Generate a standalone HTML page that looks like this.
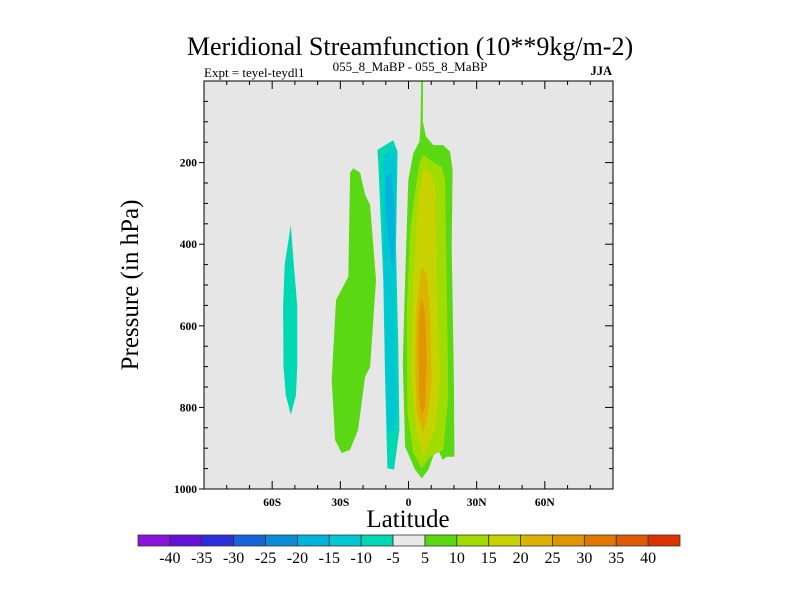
<!DOCTYPE html>
<html><head><meta charset="utf-8"><style>
body{margin:0;background:#fff;}
svg text{font-family:"Liberation Serif",serif;}
</style></head><body>
<svg id="chart" width="800" height="600" xmlns="http://www.w3.org/2000/svg">
<text x="410" y="55" font-size="26" text-anchor="middle">Meridional Streamfunction (10**9kg/m-2)</text>
<text x="204" y="77" font-size="13">Expt = teyel-teydl1</text>
<text x="410" y="71" font-size="13" text-anchor="middle">055_8_MaBP - 055_8_MaBP</text>
<text x="612" y="75" font-size="12.5" font-weight="bold" text-anchor="end">JJA</text>
<rect x="204" y="81" width="409" height="408" fill="#e6e6e6"/>
<g id="contours"></g>
<rect x="204" y="81" width="409" height="408" fill="none" stroke="#000" stroke-width="1"/>
<g id="ticks"></g>
<text transform="translate(138,285) rotate(-90)" font-size="25" text-anchor="middle">Pressure (in hPa)</text>
<text x="408" y="527" font-size="25" text-anchor="middle">Latitude</text>
<g id="colorbar"></g>
</svg>
<script>
const NS="http://www.w3.org/2000/svg";
const latTicks=[-60,-30,0,30,60];
const latTickLabels=["60S","30S","0","30N","60N"];
const presTicks=[200,400,600,800,1000];
const cbLevels=[-40,-35,-30,-25,-20,-15,-10,-5,5,10,15,20,25,30,35,40];
const cbColors=["#8a14dc","#6410d8","#2a30dc","#1464d8","#0a8cd8","#00b4dc","#00c8d2","#00d8b4","#e8e8e8","#5ad814","#a0dc00","#c8d200","#dcb400","#e09600","#e07800","#e05a00","#dc3200"];
// contour polygons: [lat, pressure]
const cyanLeft=[[-51.8,353],[-50.5,450],[-49,550],[-49,700],[-49.5,770],[-51.8,818],[-54,770],[-55,700],[-55.2,550],[-54.5,450]];
const greenLeft=[[-24.3,214],[-21.3,225],[-19.1,279],[-16.9,304],[-14.3,488],[-16.9,701],[-19.1,725],[-22.2,855],[-25.7,904],[-29.4,912],[-32.3,880],[-33.8,733],[-31.9,537],[-26.5,480],[-25.7,225]];
const tealCol=[[-13.7,169],[-6.7,145],[-4.8,173],[-5.5,406],[-4.5,651],[-4.0,855],[-6.4,953],[-9.3,949],[-10.3,733],[-11.1,488],[-13.3,201]];
const cyanCol=[[-11.1,185],[-6.4,161],[-5.5,186],[-5.9,569],[-5.2,814],[-6.7,863],[-9.3,855],[-10.3,676],[-11.1,406]];
const blueCore=[[-10.3,234],[-7.4,226],[-5.9,324],[-6.4,471],[-8.1,422],[-9.9,324]];
const pos5=[[5.6,0],[6.4,0],[6.3,100],[7.7,136],[10.9,157],[15.3,157],[18.3,173],[19.4,218],[19.0,406],[20.0,733],[20.2,921],[16.8,921],[15.0,929],[12.4,896],[8.7,953],[5.8,974],[2.9,953],[-1.5,896],[-2.5,691],[-1.5,488],[-0.1,243],[2.1,177],[4.8,149],[5.3,110]];
const pos10=[[6.5,181],[9.5,194],[14.6,210],[16.1,243],[16.8,488],[17.5,774],[15.3,904],[9.5,921],[5.8,949],[2.1,912],[-0.5,814],[-0.8,569],[0.7,365],[3.6,243],[5.1,194]];
const pos15=[[6.5,214],[9.5,223],[11.7,259],[12.4,488],[13.9,733],[11.7,855],[6.5,921],[3.6,863],[1.4,733],[2.1,488],[4.4,284]];
const pos20=[[5.8,455],[8.0,471],[9.5,569],[10.2,733],[8.7,814],[6.5,863],[3.6,814],[2.9,691],[3.6,553]];
const pos25=[[5.8,529],[7.3,569],[8.0,691],[7.3,798],[5.8,823],[4.7,782],[4.4,651],[4.7,569]];
const X0=204,X1=613,Y0=81,Y1=489;
const xs=lat=>X0+(lat+90)/180*(X1-X0);
const ys=p=>Y0+p/1000*(Y1-Y0);
const cg=document.getElementById('contours');
function poly(pts,color,name){
  const e=document.createElementNS(NS,'polygon');
  e.setAttribute('points',pts.map(q=>xs(q[0]).toFixed(1)+','+ys(q[1]).toFixed(1)).join(' '));
  e.setAttribute('fill',color);
  
  
  cg.appendChild(e);
}
poly(cyanLeft,cbColors[7],'contour-neg-southern');
poly(greenLeft,cbColors[9],'contour-pos-southern');
poly(tealCol,cbColors[7],'contour-neg-equatorial');
poly(cyanCol,cbColors[6],'contour-neg-10');
poly(blueCore,cbColors[5],'contour-neg-15');
poly(pos5,cbColors[9],'contour-pos-5');
poly(pos10,cbColors[10],'contour-pos-10');
poly(pos15,cbColors[11],'contour-pos-15');
poly(pos20,cbColors[12],'contour-pos-20');
poly(pos25,cbColors[13],'contour-pos-25');
const tg=document.getElementById('ticks');
function line(x1,y1,x2,y2){
  const l=document.createElementNS(NS,'line');
  l.setAttribute('x1',x1);l.setAttribute('y1',y1);l.setAttribute('x2',x2);l.setAttribute('y2',y2);
  l.setAttribute('stroke','#000');l.setAttribute('stroke-width','1');
  
  
  tg.appendChild(l);
}
function txt(parent,x,y,s,size,anchor,name,bold){
  const t=document.createElementNS(NS,'text');
  t.setAttribute('x',x);t.setAttribute('y',y);t.setAttribute('font-size',size);
  t.setAttribute('text-anchor',anchor);
  if(bold)t.setAttribute('font-weight','bold');
  t.textContent=s;
  
  
  parent.appendChild(t);
}
for(let lat=-80;lat<=80;lat+=10){
  const x=xs(lat), major=lat%30===0;
  line(x,Y1,x,Y1-(major?8:4));
  line(x,Y0,x,Y0+(major?8:4));
}
latTicks.forEach((v,i)=>txt(tg,xs(v),Y1+17,latTickLabels[i],11.5,'middle','x-tick-label',true));
for(let p=50;p<=1000;p+=50){
  const y=ys(p), major=p%200===0;
  if(major){line(X0-5,y,X0,y);}else{line(X0,y,X0+4,y);}
  line(X1,y,X1-(major?8:4),y);
}
presTicks.forEach(v=>txt(tg,X0-7,ys(v)+4,String(v),11.5,'end','y-tick-label',true));
const cb=document.getElementById('colorbar');
const CB0=138,CB1=680,CBY=535,CBH=11,bw=(CB1-CB0)/cbColors.length;
cbColors.forEach((c,i)=>{
  const r=document.createElementNS(NS,'rect');
  r.setAttribute('x',CB0+i*bw);r.setAttribute('y',CBY);r.setAttribute('width',bw);r.setAttribute('height',CBH);
  r.setAttribute('fill',c);r.setAttribute('stroke','#333');r.setAttribute('stroke-width','0.8');
  
  
  cb.appendChild(r);
});
cbLevels.forEach((v,i)=>txt(cb,CB0+(i+1)*bw,CBY+CBH+17,String(v),16,'middle','colorbar-label',false));
</script>
</body></html>
